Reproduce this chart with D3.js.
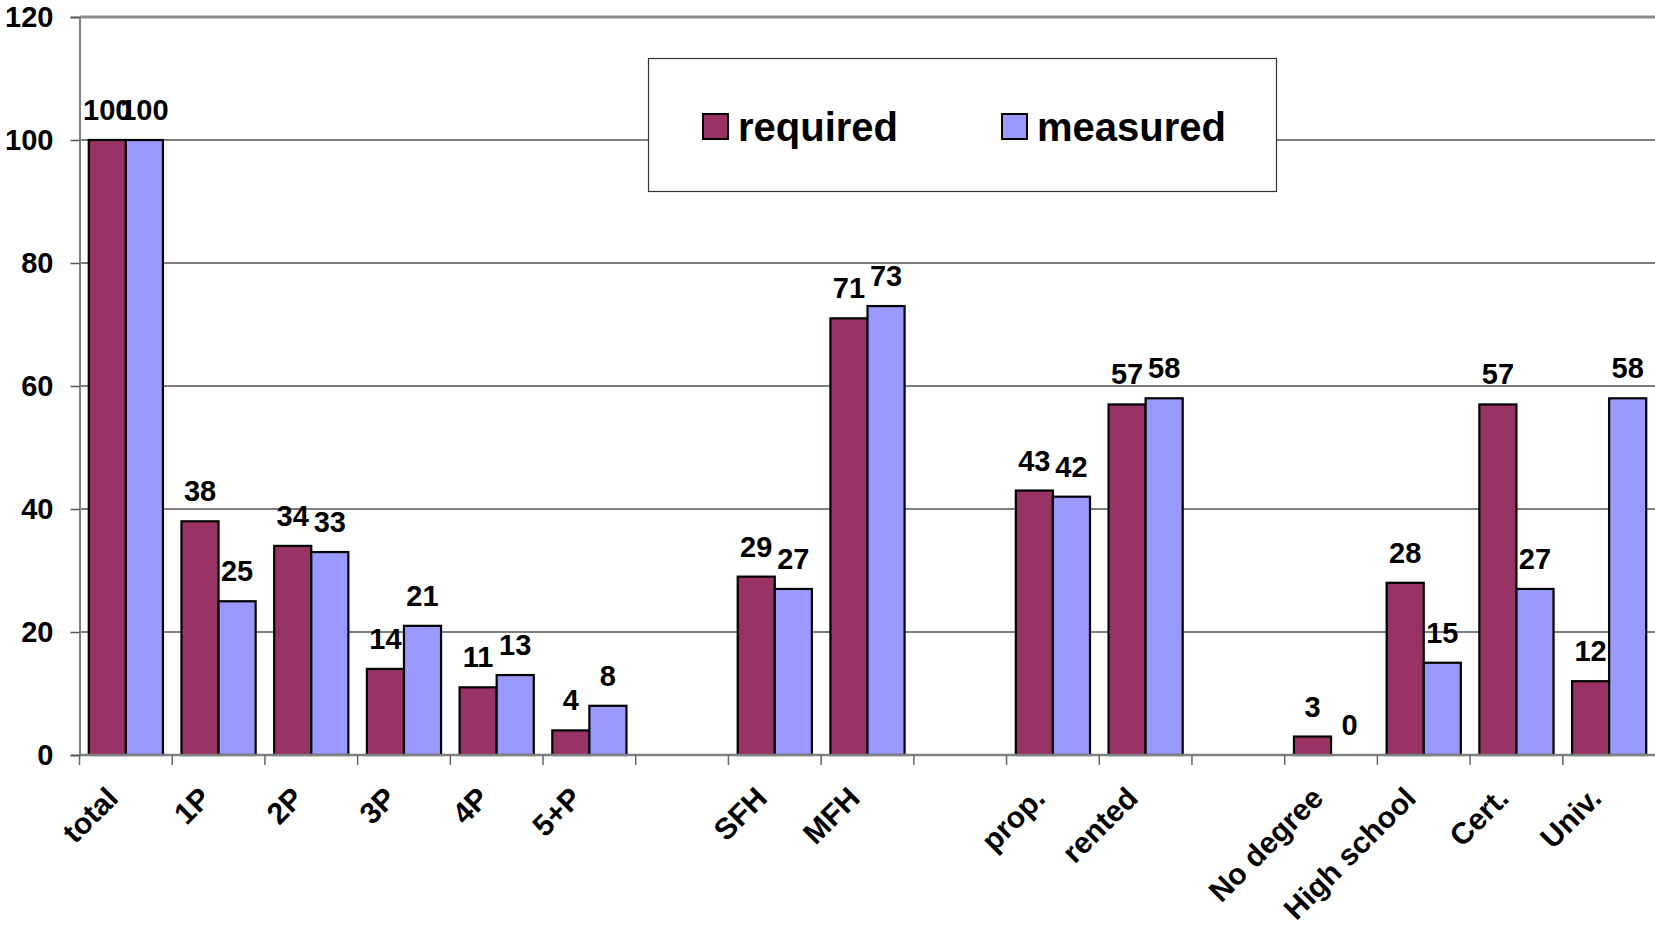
<!DOCTYPE html>
<html>
<head>
<meta charset="utf-8">
<script src="https://cdn.jsdelivr.net/npm/d3@7"></script>
<style>
  html, body { margin: 0; padding: 0; background: #fff; }
  svg { display: block; font-family: "Liberation Sans", Arial, sans-serif; font-weight: bold; }
</style>
</head>
<body>
<svg id="chart" width="1655" height="928"></svg>
<script>
// Household groups, dwelling types, tenure and education; blank entries leave gaps between groups
const categories = ["total", "1P", "2P", "3P", "4P", "5+P", "", "SFH", "MFH", "", "prop.", "rented", "", "No degree", "High school", "Cert.", "Univ."];
const required = [100, 38, 34, 14, 11, 4, null, 29, 71, null, 43, 57, null, 3, 28, 57, 12];
const measured = [100, 25, 33, 21, 13, 8, null, 27, 73, null, 42, 58, null, 0, 15, 27, 58];
const seriesNames = ["required", "measured"];
const yTicks = [0, 20, 40, 60, 80, 100, 120];

const colors = { required: "#993366", measured: "#9999FF" };
const series = { required, measured };

const svg = d3.select("#chart");
const plot = { left: 79.5, right: 1655.5, top: 17, bottom: 755 };

const x = d3.scaleBand()
  .domain(d3.range(categories.length))
  .range([plot.left, plot.right])
  .padding(0);

const xInner = d3.scaleBand()
  .domain(seriesNames)
  .range([0, x.bandwidth()])
  .paddingInner(0)
  .paddingOuter(0.25);

const y = d3.scaleLinear()
  .domain([0, 120])
  .range([plot.bottom, plot.top]);

// horizontal gridlines
svg.append("g")
  .selectAll("line")
  .data(yTicks.filter(t => t > 0))
  .join("line")
  .attr("x1", plot.left)
  .attr("x2", plot.right)
  .attr("y1", d => y(d))
  .attr("y2", d => y(d))
  .attr("stroke", d => d === 120 ? "#8c8c8c" : "#000")
  .attr("stroke-width", d => d === 120 ? 3 : 1.2);

// y axis
const yAxis = svg.append("g")
  .attr("transform", `translate(${plot.left},0)`)
  .call(d3.axisLeft(y).tickValues(yTicks).tickSize(9).tickPadding(17).tickFormat(d3.format("d")));
yAxis.select(".domain").attr("stroke", "#808080").attr("stroke-width", 2);
yAxis.selectAll(".tick line").attr("stroke", "#555").attr("stroke-width", 1.5);
yAxis.selectAll(".tick text")
  .attr("fill", "#000")
  .style("font-size", "29px")
  .style("font-family", "'Liberation Sans', Arial, sans-serif")
  .style("font-weight", "bold");

// bars
const groups = svg.append("g")
  .selectAll("g")
  .data(categories.map((c, i) => i))
  .join("g")
  .attr("transform", i => `translate(${x(i)},0)`);

groups.selectAll("rect")
  .data(i => seriesNames.map(s => ({ s, v: series[s][i] })).filter(d => d.v !== null && d.v > 0))
  .join("rect")
  .attr("x", d => xInner(d.s))
  .attr("width", xInner.bandwidth())
  .attr("y", d => y(d.v))
  .attr("height", d => y(0) - y(d.v))
  .attr("fill", d => colors[d.s])
  .attr("stroke", "#000")
  .attr("stroke-width", 2.2);

// x axis baseline and ticks
const xAxis = svg.append("g");
xAxis.append("line")
  .attr("x1", plot.left).attr("x2", plot.right)
  .attr("y1", y(0)).attr("y2", y(0))
  .attr("stroke", "#808080").attr("stroke-width", 2.5);
xAxis.selectAll("line.tick")
  .data(d3.range(categories.length))
  .join("line")
  .attr("class", "tick")
  .attr("x1", i => x(i)).attr("x2", i => x(i))
  .attr("y1", y(0)).attr("y2", y(0) + 10)
  .attr("stroke", "#666").attr("stroke-width", 1.5);

// rotated category labels
xAxis.selectAll("text")
  .data(categories.map((c, i) => ({ c, i })).filter(d => d.c !== ""))
  .join("text")
  .attr("text-anchor", "end")
  .attr("transform", d => `translate(${x(d.i) + x.bandwidth() / 2 - 6},${y(0) + 45}) rotate(-45)`)
  .style("font-size", "30px")
  .text(d => d.c);

// value labels above bars
groups.selectAll("text")
  .data(i => seriesNames.map(s => ({ s, v: series[s][i] })).filter(d => d.v !== null))
  .join("text")
  .attr("x", d => xInner(d.s) + xInner.bandwidth() / 2)
  .attr("y", d => y(d.v) - 20)
  .attr("text-anchor", "middle")
  .style("font-size", "29px")
  .text(d => d3.format("d")(d.v));

// legend
const legend = svg.append("g");
legend.append("rect")
  .attr("x", 648.5).attr("y", 58.5)
  .attr("width", 628).attr("height", 133)
  .attr("fill", "#fff").attr("stroke", "#333").attr("stroke-width", 1.2);
const legendPos = [703, 1002];
const items = legend.selectAll("g")
  .data(seriesNames)
  .join("g")
  .attr("transform", (d, i) => `translate(${legendPos[i]},114)`);
items.append("rect")
  .attr("width", 25).attr("height", 25)
  .attr("fill", d => colors[d])
  .attr("stroke", "#000").attr("stroke-width", 2);
items.append("text")
  .attr("x", 35).attr("y", 27)
  .style("font-size", "40px")
  .text(d => d);
</script>
</body>
</html>
